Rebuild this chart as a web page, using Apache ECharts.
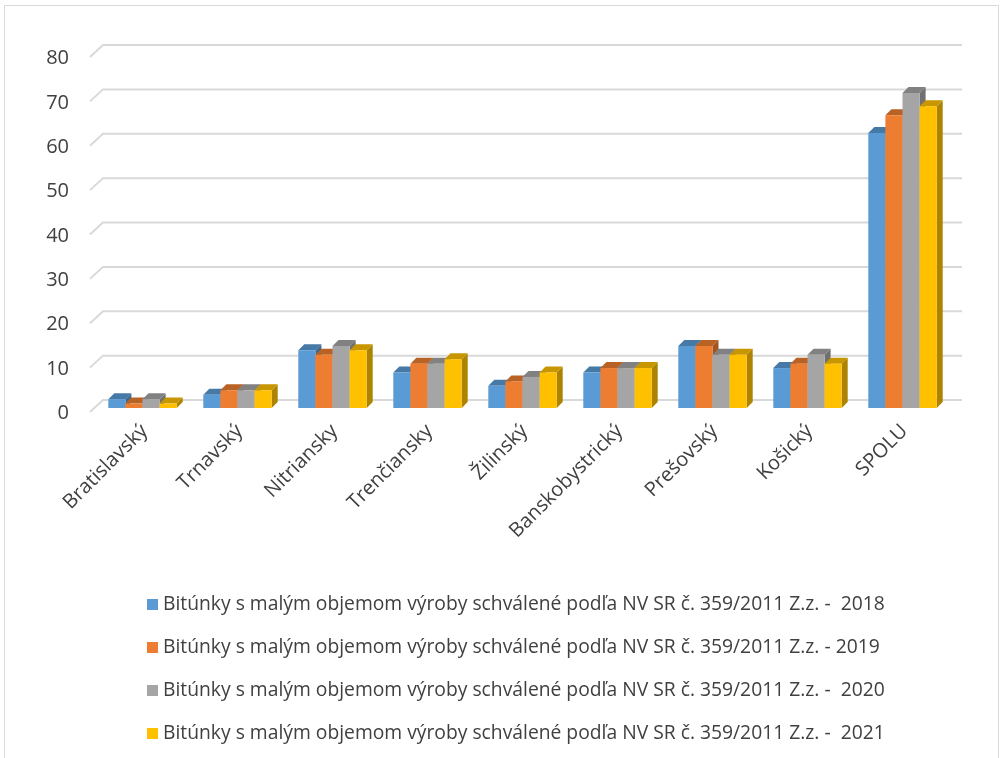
<!DOCTYPE html>
<html><head><meta charset="utf-8">
<script src="https://cdn.jsdelivr.net/npm/echarts@6/dist/echarts.min.js"></script>
<style>html,body{margin:0;padding:0;background:#fff}#c{width:1002px;height:758px}</style>
</head><body><div id="c"></div>
<script>
const categories = ['Bratislavský','Trnavský','Nitriansky','Trenčiansky','Žilinský','Banskobystrický','Prešovský','Košický','SPOLU'];
const yTicks = [0,10,20,30,40,50,60,70,80];
const seriesNames = [
  'Bitúnky s malým objemom výroby schválené podľa NV SR č. 359/2011 Z.z. -  2018',
  'Bitúnky s malým objemom výroby schválené podľa NV SR č. 359/2011 Z.z. - 2019',
  'Bitúnky s malým objemom výroby schválené podľa NV SR č. 359/2011 Z.z. -  2020',
  'Bitúnky s malým objemom výroby schválené podľa NV SR č. 359/2011 Z.z. -  2021'
];
const v2018 = [2,3,13,8,5,8,14,9,62];
const v2019 = [1,4,12,10,6,9,14,10,66];
const v2020 = [2,4,14,10,7,9,12,12,71];
const v2021 = [1,4,13,11,8,9,12,10,68];
const values = [v2018, v2019, v2020, v2021];
const colors = ['#5B9BD5','#ED7D31','#A5A5A5','#FFC000'];

function shade(hex, f){
  const n = parseInt(hex.slice(1),16);
  const r = Math.round(((n>>16)&255)*f), g = Math.round(((n>>8)&255)*f), b = Math.round((n&255)*f);
  return 'rgb('+r+','+g+','+b+')';
}
const DX = 6, DY = 6;
const nS = values.length;

function barRender(si){
  return function(params, api){
    const ci = api.value(0), val = api.value(1);
    const top = api.coord([ci, val]);
    const base = api.coord([ci, 0]);
    const band = api.size([1,0])[0];
    const groupW = band * 0.72;
    const bw = groupW / nS;
    const x0 = top[0] - groupW/2 + si*bw - DX/2 + 1;
    const x1 = x0 + bw;
    const yT = top[1], yB = base[1];
    const c = colors[si];
    return {type:'group', children:[
      {type:'polygon', shape:{points:[[x1,yB],[x1+DX,yB-DY],[x1+DX,yT-DY],[x1,yT]]}, style:{fill:shade(c,0.68)}},
      {type:'polygon', shape:{points:[[x0,yT],[x0+DX,yT-DY],[x1+DX,yT-DY],[x1,yT]]}, style:{fill:shade(c,0.78)}},
      {type:'rect', shape:{x:x0, y:yT, width:bw, height:yB-yT}, style:{fill:c}}
    ]};
  };
}

const series = [];
// back wall gridlines with floor diagonal
series.push({
  type:'custom', name:'grid', silent:true, z:1, legendHoverLink:false,
  data: yTicks.map(t=>[0,t]),
  renderItem:function(params, api){
    const p = api.coord([0, api.value(1)]);
    const cs = params.coordSys;
    const xl = cs.x - 7, xr = cs.x + cs.width + 10;
    const y = p[1];
    return {type:'polyline', shape:{points:[[xl,y+4],[xl+13,y-8],[xr,y-8]]},
      style:{stroke:'#d9d9d9', lineWidth:2, fill:null}};
  }
});
values.forEach((vals, si)=>{
  series.push({
    type:'custom', name:seriesNames[si], z:3,
    itemStyle:{color:colors[si]},
    encode:{x:0, y:1},
    data: vals.map((v,i)=>[i,v]),
    renderItem: barRender(si)
  });
});

const F = 'Open Sans';
const chart = echarts.init(document.getElementById('c'));
chart.setOption({
  animation:false,
  textStyle:{fontFamily:F},
  graphic:[{type:'rect', shape:{x:4.5, y:5.5, width:994, height:760}, style:{fill:null, stroke:'#d9d9d9', lineWidth:1}, silent:true}],
  grid:{left:97, right:50, top:53, bottom:350, containLabel:false},
  xAxis:{type:'category', data:categories, axisLine:{show:false}, axisTick:{show:false},
    axisLabel:{rotate:45, fontSize:20, color:'#404040', margin:20, interval:0, fontFamily:F}},
  yAxis:{type:'value', min:0, max:80, interval:10, splitLine:{show:false}, axisLine:{show:false}, axisTick:{show:false},
    axisLabel:{fontSize:20, color:'#404040', margin:28, fontFamily:F,
      formatter:'{a|{value}}', rich:{a:{fontSize:20, color:'#404040', fontFamily:F, padding:[11,0,0,0]}}}},
  legend:{orient:'vertical', left:142, top:590, itemGap:24, itemWidth:11, itemHeight:11, icon:'rect',
    data:seriesNames, textStyle:{fontSize:19.3, color:'#404040', fontFamily:F}},
  series:series
});
</script></body></html>
